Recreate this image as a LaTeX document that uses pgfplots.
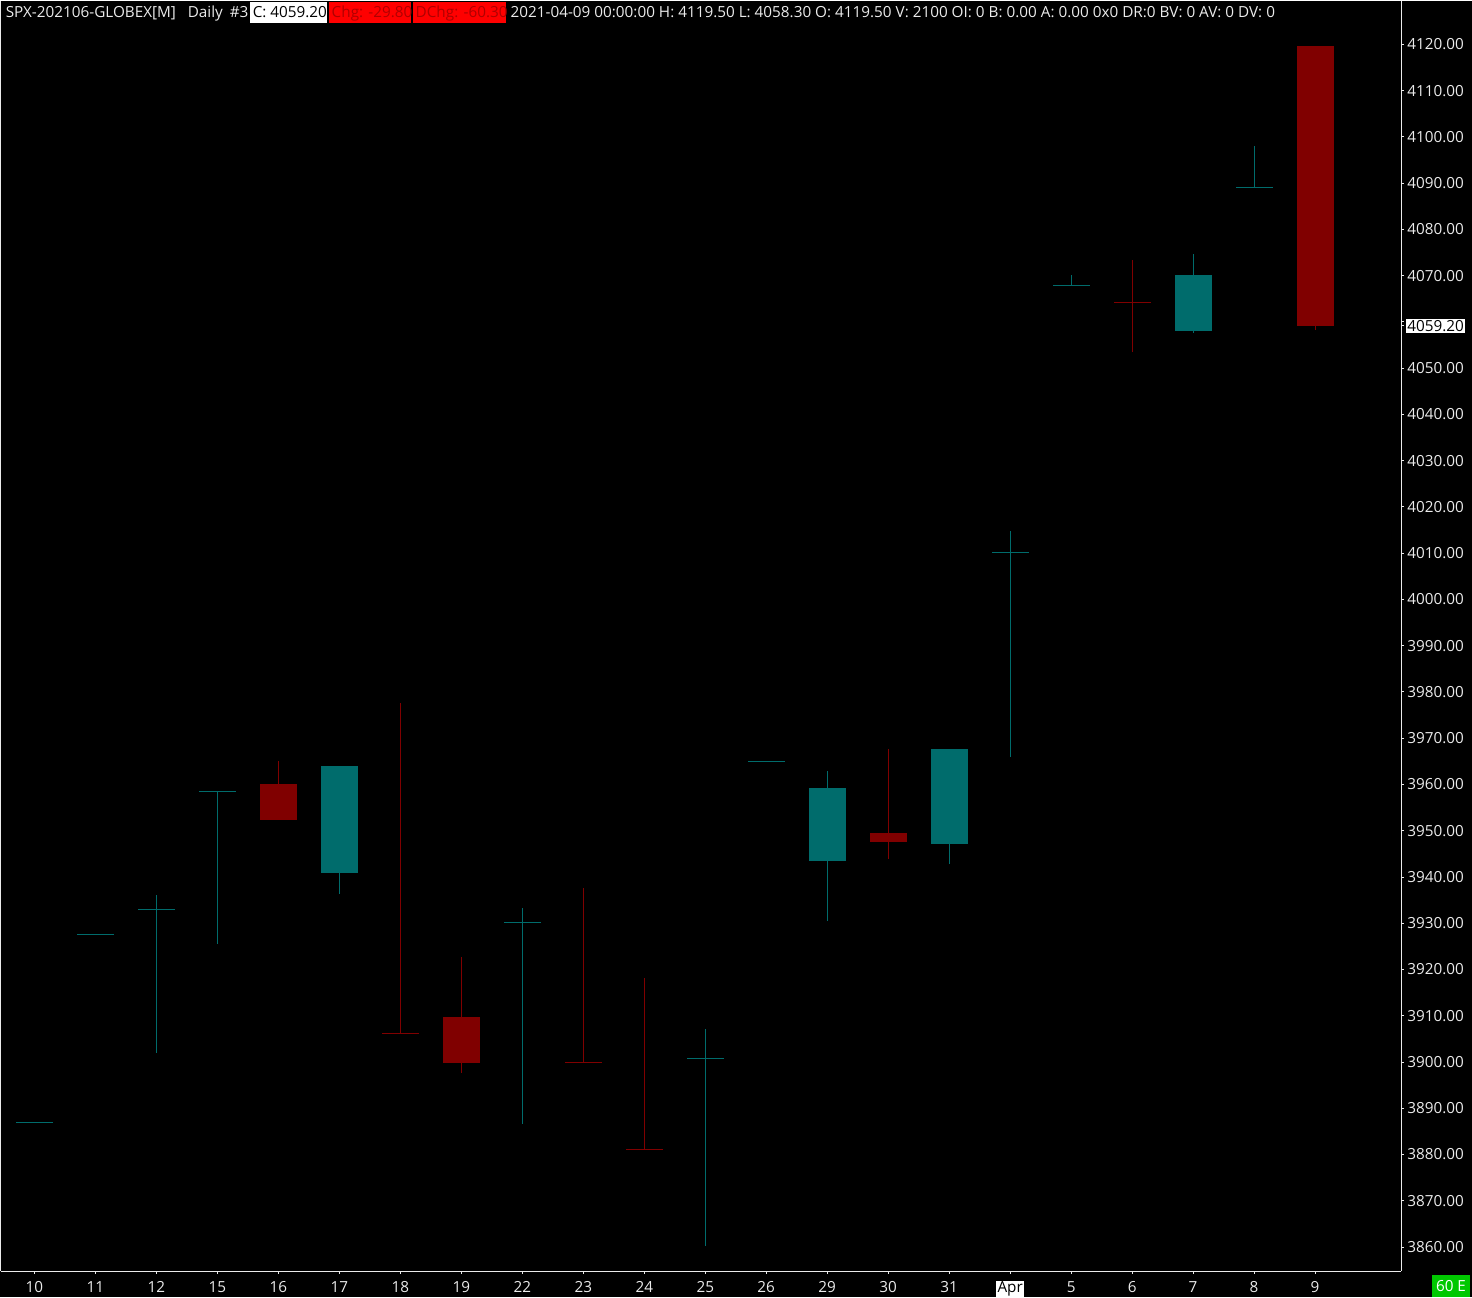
\documentclass[border=0pt]{standalone}
\usepackage{fontspec}
\setmainfont{Open Sans}
\usepackage{pgfplots}
\pgfplotsset{compat=1.18}
\usepackage{pgfplotstable}
\definecolor{upc}{RGB}{0,108,108}
\definecolor{dnc}{RGB}{128,0,0}
\definecolor{txt}{RGB}{235,235,235}
\definecolor{boxred}{RGB}{255,0,0}
\definecolor{chgtxt}{RGB}{175,0,0}
\definecolor{grn}{RGB}{0,200,0}
\setlength{\fboxsep}{0.6pt}
\newcommand\aprlabel{\colorbox{white}{\textcolor{black}{Apr}}}
\newcommand\hfont{\fontsize{8.7}{10}\selectfont}

% x = bar index, o h l c
\pgfplotstableread{
x o h l c
0 3887.0 3887.0 3887.0 3887.0
1 3927.6 3927.6 3927.6 3927.6
2 3933.0 3936.1 3902.0 3933.0
3 3958.5 3958.5 3925.6 3958.5
5 3940.9 3964.0 3936.4 3964.0
8 3930.2 3933.3 3886.7 3930.2
11 3900.8 3907.1 3860.3 3900.8
12 3965.0 3965.0 3965.0 3965.0
13 3943.6 3962.9 3930.5 3959.2
15 3947.3 3967.6 3942.8 3967.6
16 4010.2 4014.7 3966.0 4010.2
17 4067.8 4070.1 4067.8 4067.8
19 4058.2 4074.6 4057.6 4070.1
20 4089.0 4098.0 4089.0 4089.0
}\uptable

\pgfplotstableread{
x o h l c
4 3959.9 3965.0 3952.5 3952.5
6 3906.2 3977.6 3906.2 3906.2
7 3909.6 3922.7 3897.7 3899.8
9 3899.9 3937.6 3899.9 3899.9
10 3881.1 3918.1 3881.1 3881.1
14 3949.5 3967.6 3943.9 3947.7
18 4064.2 4073.3 4053.5 4064.2
21 4119.5 4119.5 4058.3 4059.2
}\dntable

\pgfplotsset{
  wick/.style={draw=none, mark=none, forget plot, error bars/.cd, y dir=plus, y explicit,
    error mark=none, error bar style={draw=#1, line width=0.2mm}},
  oc/.style={draw=none, mark=none, forget plot, error bars/.cd, x dir=both, x fixed=0.303,
    error mark=none, error bar style={draw=#1, line width=0.2mm}},
  body/.style={draw=none, mark=none, forget plot, error bars/.cd, y dir=plus, y explicit,
    error mark=none, error bar style={draw=#1, line width=7.4mm, line cap=butt}},
}

\begin{document}
\begin{tikzpicture}
\fill[black] (0,0) rectangle (294.4mm,-259.4mm);
\begin{axis}[
  at={(0,0)}, anchor=north west,
  scale only axis, width=280.2mm, height=254.2mm,
  xmin=-0.557, xmax=22.41, ymin=3854.8, ymax=4129.5,
  axis x line=bottom, axis y line=right,
  axis line style={-, draw=txt, line width=0.2mm},
  xtick={0,...,21},
  xticklabels={10,11,12,15,16,17,18,19,22,23,24,25,26,29,30,31,\aprlabel,5,6,7,8,9},
  ytick={3860,3870,...,4120},
  yticklabel={\pgfmathparse{abs(\tick-4060)<0.5 ? 1 : 0}\ifdim\pgfmathresult pt>0.5pt\relax\else\pgfmathprintnumber{\tick}\fi},
  tick align=outside, major tick length=0.6mm,
  tick style={draw=txt, line width=0.2mm},
  ticklabel style={font=\hfont, text=txt},
  xticklabel style={anchor=base, inner sep=0pt, yshift=-3.7mm},
  yticklabel style={anchor=west, inner sep=0pt, xshift=0.6mm,
    /pgf/number format/fixed, /pgf/number format/fixed zerofill,
    /pgf/number format/precision=2, /pgf/number format/1000 sep={},
    /pgf/number format/assume math mode=true},
  extra y ticks={4059.2},
  extra y tick style={yticklabel style={fill=white, text=black, inner sep=0.3mm, xshift=-0.3mm}},
]
% wicks
\addplot[wick=upc] table[x=x, y=l, y error expr=\thisrow{h}-\thisrow{l}] {\uptable};
\addplot[wick=dnc] table[x=x, y=l, y error expr=\thisrow{h}-\thisrow{l}] {\dntable};
% open / close lines (doji)
\addplot[oc=upc] table[x=x, y=o] {\uptable};
\addplot[oc=upc] table[x=x, y=c] {\uptable};
\addplot[oc=dnc] table[x=x, y=o] {\dntable};
\addplot[oc=dnc] table[x=x, y=c] {\dntable};
% bodies
\addplot[body=upc] table[x=x, y expr={min(\thisrow{o},\thisrow{c})}, y error expr={abs(\thisrow{c}-\thisrow{o})}] {\uptable};
\addplot[body=dnc] table[x=x, y expr={min(\thisrow{o},\thisrow{c})}, y error expr={abs(\thisrow{c}-\thisrow{o})}] {\dntable};
\end{axis}
\begin{scope}[x=0.2mm, y=-0.2mm, font=\hfont]
\draw[txt, line width=0.2mm] (0.5,0) -- (0.5,1271);
\node[anchor=base west, inner sep=0pt, text=txt] at (5,17) {SPX-202106-GLOBEX[M]};
\node[anchor=base west, inner sep=0pt, text=txt] at (187,17) {Daily};
\node[anchor=base west, inner sep=0pt, text=txt] at (229,17) {\#3};
\fill[white] (250,1) rectangle (327,23);
\node[anchor=base west, inner sep=0pt, text=black] at (252,17) {C: 4059.20};
\fill[boxred] (329,1) rectangle (411,23);
\node[anchor=base west, inner sep=0pt, text=chgtxt] at (331,17) {Chg: -29.80};
\fill[boxred] (413,1) rectangle (506,23);
\node[anchor=base west, inner sep=0pt, text=chgtxt] at (415,17) {DChg: -60.30};
\node[anchor=base west, inner sep=0pt, text=txt] at (510,17) {2021-04-09 00:00:00 H: 4119.50 L: 4058.30 O: 4119.50 V: 2100 OI: 0 B: 0.00 A: 0.00 0x0 DR:0 BV: 0 AV: 0 DV: 0};
\fill[grn] (1432,1275) rectangle (1470,1297);
\node[inner sep=0pt, text=white] at (1451,1286) {60 E};
\end{scope}
\end{tikzpicture}
\end{document}
